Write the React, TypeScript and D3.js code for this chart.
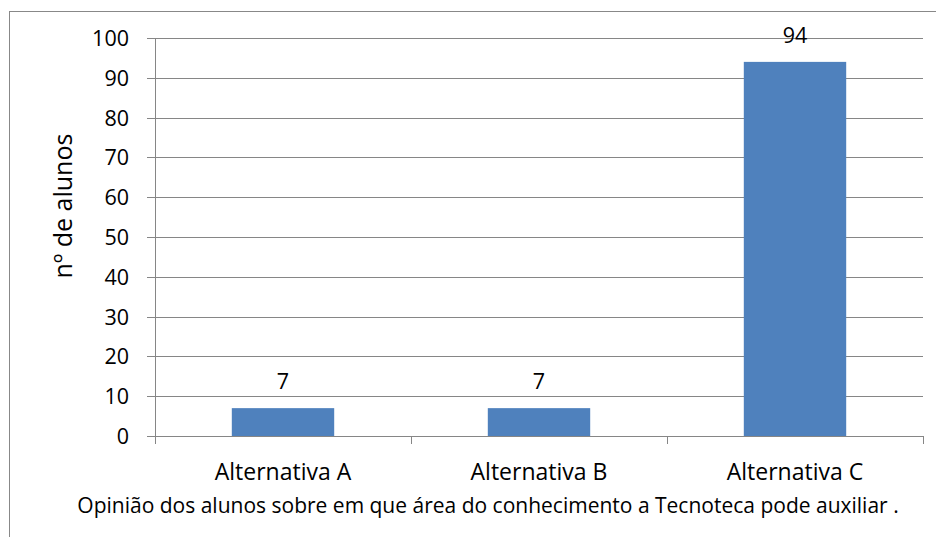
import React, { useEffect, useRef } from "react";
import * as d3 from "d3";

const categories = ["Alternativa A", "Alternativa B", "Alternativa C"];
const values = [7, 7, 94];
const yTicks = [0, 10, 20, 30, 40, 50, 60, 70, 80, 90, 100];
const yTitle = "nº de alunos";
const xTitle =
  "Opinião dos alunos sobre em que área do conhecimento a Tecnoteca pode auxiliar .";

const W = 936;
const H = 537;
const FONT = "'Open Sans', sans-serif";

export default function App() {
  const ref = useRef<SVGSVGElement>(null);

  useEffect(() => {
    const svg = d3.select(ref.current);
    svg.selectAll("*").remove();

    const left = 155;
    const right = 923;
    const top = 38;
    const bottom = 436;

    // outer chart border
    svg
      .append("rect")
      .attr("x", 9.5)
      .attr("y", 11.5)
      .attr("width", 940)
      .attr("height", 560)
      .attr("fill", "#fff")
      .attr("stroke", "#888")
      .attr("stroke-width", 1);

    const x = d3
      .scaleBand()
      .domain(categories)
      .range([left, right])
      .paddingInner(0.6)
      .paddingOuter(0.3);

    const y = d3.scaleLinear().domain([0, 100]).range([bottom, top]);

    const g = svg.append("g");

    // gridlines + y ticks
    g.selectAll(".grid")
      .data(yTicks)
      .enter()
      .append("line")
      .attr("x1", left - 8)
      .attr("x2", right)
      .attr("y1", (d) => Math.round(y(d)) + 0.5)
      .attr("y2", (d) => Math.round(y(d)) + 0.5)
      .attr("stroke", "#868686")
      .attr("stroke-width", 1);

    g.selectAll(".ylab")
      .data(yTicks)
      .enter()
      .append("text")
      .attr("x", 129)
      .attr("y", (d) => y(d) + 8)
      .attr("text-anchor", "end")
      .attr("font-family", FONT)
      .attr("font-size", 21.5)
      .attr("fill", "#000")
      .text((d) => d);

    // y axis line
    g.append("line")
      .attr("x1", left + 0.5)
      .attr("x2", left + 0.5)
      .attr("y1", top)
      .attr("y2", bottom + 8)
      .attr("stroke", "#868686");

    // x category boundary ticks
    const step = x.step();
    const bounds = d3.range(categories.length + 1).map((i) => left + i * step);
    g.selectAll(".xtick")
      .data(bounds)
      .enter()
      .append("line")
      .attr("x1", (d) => Math.round(d) + 0.5)
      .attr("x2", (d) => Math.round(d) + 0.5)
      .attr("y1", bottom)
      .attr("y2", bottom + 8)
      .attr("stroke", "#868686");

    // bars
    g.selectAll(".bar")
      .data(values)
      .enter()
      .append("rect")
      .attr("x", (_, i) => x(categories[i])!)
      .attr("y", (d) => y(d))
      .attr("width", x.bandwidth())
      .attr("height", (d) => bottom - y(d))
      .attr("fill", "#4F81BD");

    // value labels
    g.selectAll(".val")
      .data(values)
      .enter()
      .append("text")
      .attr("x", (_, i) => x(categories[i])! + x.bandwidth() / 2)
      .attr("y", (d) => y(d) - 19)
      .attr("text-anchor", "middle")
      .attr("font-family", FONT)
      .attr("font-size", 21.5)
      .attr("fill", "#000")
      .text((d) => d);

    // category labels
    g.selectAll(".xlab")
      .data(categories)
      .enter()
      .append("text")
      .attr("x", (d) => x(d)! + x.bandwidth() / 2)
      .attr("y", 480)
      .attr("text-anchor", "middle")
      .attr("font-family", FONT)
      .attr("font-size", 23)
      .attr("fill", "#000")
      .text((d) => d);

    // x title
    svg
      .append("text")
      .attr("x", 488)
      .attr("y", 513)
      .attr("text-anchor", "middle")
      .attr("font-family", FONT)
      .attr("font-size", 21)
      .attr("fill", "#000")
      .text(xTitle);

    // y title
    svg
      .append("text")
      .attr("transform", "translate(72,206) rotate(-90)")
      .attr("text-anchor", "middle")
      .attr("font-family", FONT)
      .attr("font-size", 25)
      .attr("fill", "#000")
      .text(yTitle);
  }, []);

  return (
    <svg
      ref={ref}
      width={W}
      height={H}
      style={{ position: "absolute", left: 0, top: 0 }}
    />
  );
}
